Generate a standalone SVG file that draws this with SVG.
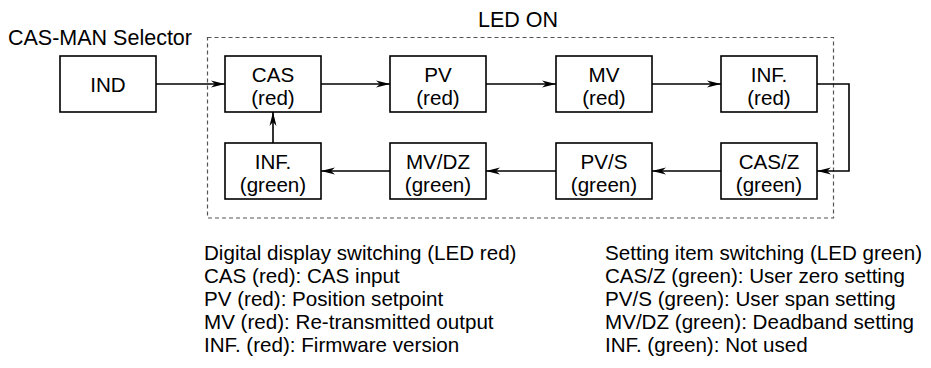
<svg xmlns="http://www.w3.org/2000/svg" width="931" height="368" viewBox="0 0 931 368">
<style>
text{font-family:"Liberation Sans",Arial,Helvetica,sans-serif;fill:#000}
.lbl{font-size:21.5px}
.bx{font-size:20.6px;text-anchor:middle}
.note{font-size:20.6px}
.box{fill:#fff;stroke:#000;stroke-width:1.6}
.con{fill:none;stroke:#000;stroke-width:1.6;marker-end:url(#ah)}
.frame{fill:none;stroke:#555;stroke-width:1.2;stroke-dasharray:4 3}
</style>
<defs>
<marker id="ah" viewBox="0 0 14 8" refX="14" refY="4" markerWidth="14" markerHeight="8" markerUnits="userSpaceOnUse" orient="auto">
<path d="M0,0.5 L14,4 L0,7.5 L4,4 z" fill="#000"/>
</marker>
</defs>
<rect class="frame" x="207.5" y="37.5" width="626" height="180.5"/>
<text class="lbl" x="8" y="45">CAS-MAN Selector</text>
<text class="lbl" x="478" y="27">LED ON</text>
<g id="connectors">
<line class="con" x1="156" y1="84" x2="225" y2="84"/>
<line class="con" x1="321" y1="84" x2="390" y2="84"/>
<line class="con" x1="486" y1="84" x2="556" y2="84"/>
<line class="con" x1="652" y1="84" x2="721" y2="84"/>
<polyline class="con" points="817,84 849,84 849,171 817,171"/>
<line class="con" x1="721" y1="171" x2="652" y2="171"/>
<line class="con" x1="556" y1="171" x2="486" y2="171"/>
<line class="con" x1="390" y1="171" x2="321" y2="171"/>
<line class="con" x1="273" y1="143" x2="273" y2="112"/>
</g>
<g id="ind"><rect class="box" x="60" y="56" width="96" height="56"/><text class="bx" x="108" y="91.5">IND</text></g>
<g id="cas"><rect class="box" x="225" y="56" width="96" height="56"/><text class="bx" x="273" y="81.5">CAS</text><text class="bx" x="273" y="104.5">(red)</text></g>
<g id="pv"><rect class="box" x="390" y="56" width="96" height="56"/><text class="bx" x="438" y="81.5">PV</text><text class="bx" x="438" y="104.5">(red)</text></g>
<g id="mv"><rect class="box" x="556" y="56" width="96" height="56"/><text class="bx" x="604" y="81.5">MV</text><text class="bx" x="604" y="104.5">(red)</text></g>
<g id="infred"><rect class="box" x="721" y="56" width="96" height="56"/><text class="bx" x="769" y="81.5">INF.</text><text class="bx" x="769" y="104.5">(red)</text></g>
<g id="infgreen"><rect class="box" x="225" y="143" width="96" height="56"/><text class="bx" x="273" y="168.5">INF.</text><text class="bx" x="273" y="191.5">(green)</text></g>
<g id="mvdz"><rect class="box" x="390" y="143" width="96" height="56"/><text class="bx" x="438" y="168.5">MV/DZ</text><text class="bx" x="438" y="191.5">(green)</text></g>
<g id="pvs"><rect class="box" x="556" y="143" width="96" height="56"/><text class="bx" x="604" y="168.5">PV/S</text><text class="bx" x="604" y="191.5">(green)</text></g>
<g id="casz"><rect class="box" x="721" y="143" width="96" height="56"/><text class="bx" x="769" y="168.5">CAS/Z</text><text class="bx" x="769" y="191.5">(green)</text></g>
<g id="notes-left">
<text class="note" x="204" y="260">Digital display switching (LED red)</text>
<text class="note" x="204" y="283">CAS (red): CAS input</text>
<text class="note" x="204" y="306">PV (red): Position setpoint</text>
<text class="note" x="204" y="329">MV (red): Re-transmitted output</text>
<text class="note" x="204" y="352">INF. (red): Firmware version</text>
</g>
<g id="notes-right">
<text class="note" x="605" y="260">Setting item switching (LED green)</text>
<text class="note" x="605" y="283">CAS/Z (green): User zero setting</text>
<text class="note" x="605" y="306">PV/S (green): User span setting</text>
<text class="note" x="605" y="329">MV/DZ (green): Deadband setting</text>
<text class="note" x="605" y="352">INF. (green): Not used</text>
</g>
</svg>
